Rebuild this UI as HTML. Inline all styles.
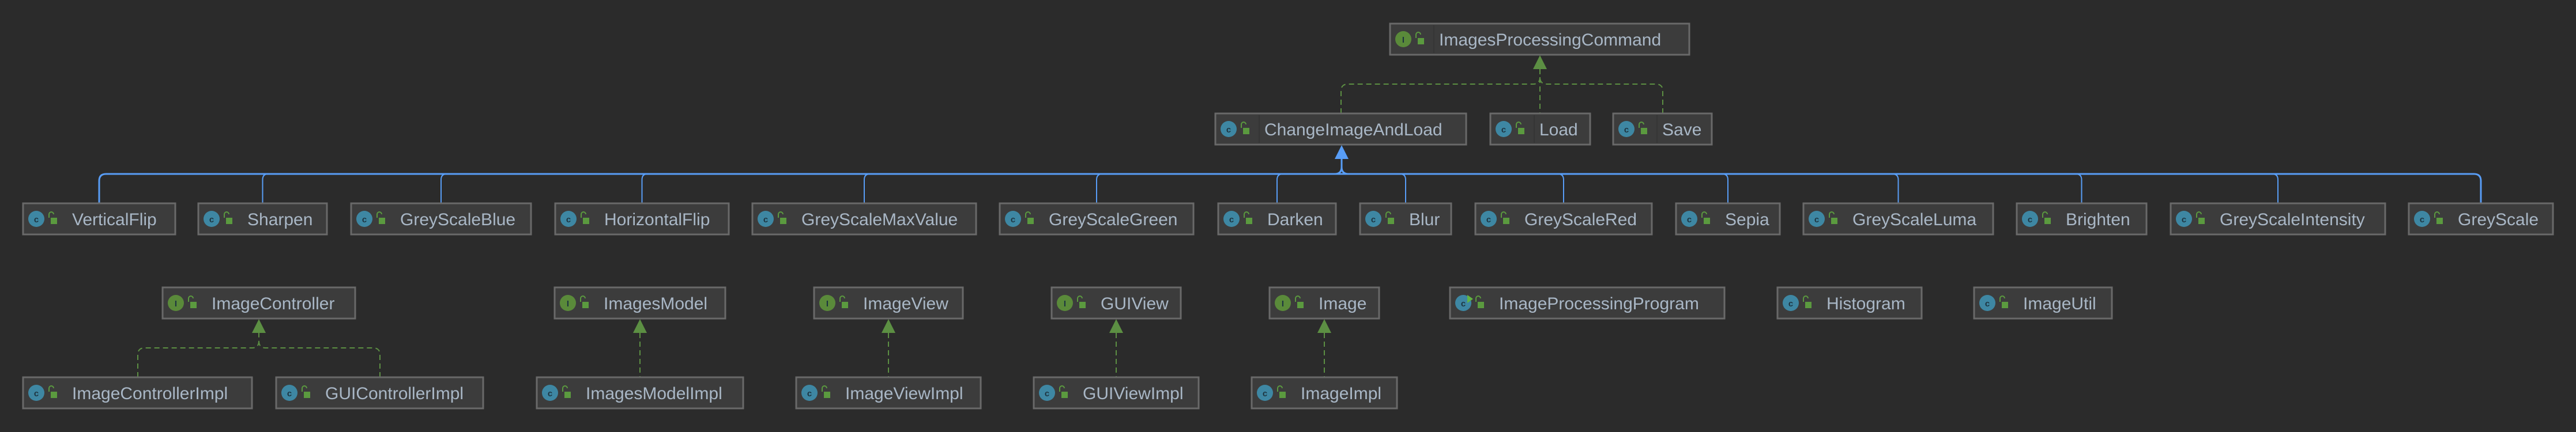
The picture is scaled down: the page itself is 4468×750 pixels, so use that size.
<!DOCTYPE html>
<html><head><meta charset="utf-8"><style>
html,body{margin:0;padding:0;background:#2b2b2b;}
svg{display:block;}
text{font-family:"Liberation Sans",sans-serif;}
.b{fill:#3c3c3c;stroke:#696969;stroke-width:3;}
.l{font-size:30px;fill:#a9b7c6;}
.ci{fill:#3e87a3;}
.ii{fill:#5a8a3a;}
.ic{font-size:15px;fill:#1d3440;text-anchor:middle;font-weight:bold;}
.lk{fill:#5b9a3f;}
.sh{fill:none;stroke:#5b9a3f;stroke-width:2;}
.dv{stroke:#353535;stroke-width:2;}
</style></head><body>
<svg width="4468" height="750" viewBox="0 0 4468 750" xmlns="http://www.w3.org/2000/svg">
<defs>
<g id="lock"><path class="sh" d="M1 9 v-6 a4 4 0 0 1 8 0"/><rect class="lk" x="4" y="9" width="11" height="11"/></g>
</defs>
<!-- blue inheritance -->
<g stroke="#589df6" fill="none">
<path d="M172 353 V314 Q172 302 184 302 H4291 Q4303 302 4303 314 V353" stroke-width="3"/>
<g stroke-width="2">
<path d="M455.5 353 V312 Q455.5 302 465 302"/>
<path d="M765 353 V312 Q765 302 775 302"/>
<path d="M1113.5 353 V312 Q1113.5 302 1123 302"/>
<path d="M1499 353 V312 Q1499 302 1509 302"/>
<path d="M1902 353 V312 Q1902 302 1912 302"/>
<path d="M2215 353 V312 Q2215 302 2225 302"/>
<path d="M2438 353 V312 Q2438 302 2428 302"/>
<path d="M2712 353 V312 Q2712 302 2702 302"/>
<path d="M2997 353 V312 Q2997 302 2987 302"/>
<path d="M3292.5 353 V312 Q3292.5 302 3282 302"/>
<path d="M3610.5 353 V312 Q3610.5 302 3600 302"/>
<path d="M3951 353 V312 Q3951 302 3941 302"/>
</g>
<path d="M2327 276 V290 Q2327 302 2315 302 M2327 290 Q2327 302 2339 302" stroke-width="3"/>
</g>
<polygon points="2327,252 2315,276 2339,276" fill="#589df6"/>
<!-- green realization -->
<g stroke="#5c8f43" stroke-width="2" fill="none" stroke-dasharray="9,6">
<path d="M2671 120 V197"/>
<path d="M2326 197 V158 Q2326 146 2338 146 H2659 Q2671 146 2671 134"/>
<path d="M2884 197 V158 Q2884 146 2872 146 H2683 Q2671 146 2671 134"/>
<path d="M239 655 V616 Q239 604 251 604 H437 Q449 604 449 592 V578"/>
<path d="M659 655 V616 Q659 604 647 604 H461 Q449 604 449 592"/>
<path d="M1110 578 V655"/>
<path d="M1541 578 V655"/>
<path d="M1936 578 V655"/>
<path d="M2297 578 V655"/>
</g>
<g fill="#5c8f43">
<polygon points="2671,96 2659,120 2683,120"/>
<polygon points="449,554 437,578 461,578"/>
<polygon points="1110,554 1098,578 1122,578"/>
<polygon points="1541,554 1529,578 1553,578"/>
<polygon points="1936,554 1924,578 1948,578"/>
<polygon points="2297,554 2285,578 2309,578"/>
</g>

<!-- Row 0 -->
<g transform="translate(2411,41)"><rect class="b" x="0" y="0" width="519" height="54"/><line class="dv" x1="76" y1="3" x2="76" y2="51"/><circle class="ii" cx="23" cy="27" r="14"/><text class="ic" x="23" y="33">I</text><use href="#lock" x="44" y="16"/><text class="l" x="85" y="38">ImagesProcessingCommand</text></g>
<!-- Row 1 -->
<g transform="translate(2108,197)"><rect class="b" x="0" y="0" width="435" height="54"/><line class="dv" x1="76" y1="3" x2="76" y2="51"/><circle class="ci" cx="23" cy="27" r="14"/><text class="ic" x="23" y="33">c</text><use href="#lock" x="44" y="16"/><text class="l" x="85" y="38">ChangeImageAndLoad</text></g>
<g transform="translate(2585,197)"><rect class="b" x="0" y="0" width="173" height="54"/><line class="dv" x1="76" y1="3" x2="76" y2="51"/><circle class="ci" cx="23" cy="27" r="14"/><text class="ic" x="23" y="33">c</text><use href="#lock" x="44" y="16"/><text class="l" x="85" y="38">Load</text></g>
<g transform="translate(2798,197)"><rect class="b" x="0" y="0" width="171" height="54"/><line class="dv" x1="76" y1="3" x2="76" y2="51"/><circle class="ci" cx="23" cy="27" r="14"/><text class="ic" x="23" y="33">c</text><use href="#lock" x="44" y="16"/><text class="l" x="85" y="38">Save</text></g>
<!-- Row 2 -->
<g transform="translate(40,353)"><rect class="b" width="264" height="54"/><circle class="ci" cx="23" cy="27" r="14"/><text class="ic" x="23" y="33">c</text><use href="#lock" x="44" y="16"/><text class="l" x="85" y="38">VerticalFlip</text></g>
<g transform="translate(344,353)"><rect class="b" width="223" height="54"/><circle class="ci" cx="23" cy="27" r="14"/><text class="ic" x="23" y="33">c</text><use href="#lock" x="44" y="16"/><text class="l" x="85" y="38">Sharpen</text></g>
<g transform="translate(609,353)"><rect class="b" width="312" height="54"/><circle class="ci" cx="23" cy="27" r="14"/><text class="ic" x="23" y="33">c</text><use href="#lock" x="44" y="16"/><text class="l" x="85" y="38">GreyScaleBlue</text></g>
<g transform="translate(963,353)"><rect class="b" width="301" height="54"/><circle class="ci" cx="23" cy="27" r="14"/><text class="ic" x="23" y="33">c</text><use href="#lock" x="44" y="16"/><text class="l" x="85" y="38">HorizontalFlip</text></g>
<g transform="translate(1305,353)"><rect class="b" width="388" height="54"/><circle class="ci" cx="23" cy="27" r="14"/><text class="ic" x="23" y="33">c</text><use href="#lock" x="44" y="16"/><text class="l" x="85" y="38">GreyScaleMaxValue</text></g>
<g transform="translate(1734,353)"><rect class="b" width="336" height="54"/><circle class="ci" cx="23" cy="27" r="14"/><text class="ic" x="23" y="33">c</text><use href="#lock" x="44" y="16"/><text class="l" x="85" y="38">GreyScaleGreen</text></g>
<g transform="translate(2113,353)"><rect class="b" width="204" height="54"/><circle class="ci" cx="23" cy="27" r="14"/><text class="ic" x="23" y="33">c</text><use href="#lock" x="44" y="16"/><text class="l" x="85" y="38">Darken</text></g>
<g transform="translate(2359,353)"><rect class="b" width="158" height="54"/><circle class="ci" cx="23" cy="27" r="14"/><text class="ic" x="23" y="33">c</text><use href="#lock" x="44" y="16"/><text class="l" x="85" y="38">Blur</text></g>
<g transform="translate(2559,353)"><rect class="b" width="306" height="54"/><circle class="ci" cx="23" cy="27" r="14"/><text class="ic" x="23" y="33">c</text><use href="#lock" x="44" y="16"/><text class="l" x="85" y="38">GreyScaleRed</text></g>
<g transform="translate(2907,353)"><rect class="b" width="180" height="54"/><circle class="ci" cx="23" cy="27" r="14"/><text class="ic" x="23" y="33">c</text><use href="#lock" x="44" y="16"/><text class="l" x="85" y="38">Sepia</text></g>
<g transform="translate(3128,353)"><rect class="b" width="329" height="54"/><circle class="ci" cx="23" cy="27" r="14"/><text class="ic" x="23" y="33">c</text><use href="#lock" x="44" y="16"/><text class="l" x="85" y="38">GreyScaleLuma</text></g>
<g transform="translate(3498,353)"><rect class="b" width="225" height="54"/><circle class="ci" cx="23" cy="27" r="14"/><text class="ic" x="23" y="33">c</text><use href="#lock" x="44" y="16"/><text class="l" x="85" y="38">Brighten</text></g>
<g transform="translate(3765,353)"><rect class="b" width="372" height="54"/><circle class="ci" cx="23" cy="27" r="14"/><text class="ic" x="23" y="33">c</text><use href="#lock" x="44" y="16"/><text class="l" x="85" y="38">GreyScaleIntensity</text></g>
<g transform="translate(4178,353)"><rect class="b" width="250" height="54"/><circle class="ci" cx="23" cy="27" r="14"/><text class="ic" x="23" y="33">c</text><use href="#lock" x="44" y="16"/><text class="l" x="85" y="38">GreyScale</text></g>
<!-- Row 3 -->
<g transform="translate(282,499)"><rect class="b" width="334" height="54"/><circle class="ii" cx="23" cy="27" r="14"/><text class="ic" x="23" y="33">I</text><use href="#lock" x="44" y="16"/><text class="l" x="85" y="38">ImageController</text></g>
<g transform="translate(962,499)"><rect class="b" width="296" height="54"/><circle class="ii" cx="23" cy="27" r="14"/><text class="ic" x="23" y="33">I</text><use href="#lock" x="44" y="16"/><text class="l" x="85" y="38">ImagesModel</text></g>
<g transform="translate(1412,499)"><rect class="b" width="258" height="54"/><circle class="ii" cx="23" cy="27" r="14"/><text class="ic" x="23" y="33">I</text><use href="#lock" x="44" y="16"/><text class="l" x="85" y="38">ImageView</text></g>
<g transform="translate(1824,499)"><rect class="b" width="224" height="54"/><circle class="ii" cx="23" cy="27" r="14"/><text class="ic" x="23" y="33">I</text><use href="#lock" x="44" y="16"/><text class="l" x="85" y="38">GUIView</text></g>
<g transform="translate(2202,499)"><rect class="b" width="190" height="54"/><circle class="ii" cx="23" cy="27" r="14"/><text class="ic" x="23" y="33">I</text><use href="#lock" x="44" y="16"/><text class="l" x="85" y="38">Image</text></g>
<g transform="translate(2515,499)"><rect class="b" width="476" height="54"/><circle class="ci" cx="23" cy="27" r="14"/><text class="ic" x="23" y="33">c</text><polygon points="30,13 40,20 30,27" fill="#62b543"/><use href="#lock" x="44" y="16"/><text class="l" x="85" y="38">ImageProcessingProgram</text></g>
<g transform="translate(3083,499)"><rect class="b" width="250" height="54"/><circle class="ci" cx="23" cy="27" r="14"/><text class="ic" x="23" y="33">c</text><use href="#lock" x="44" y="16"/><text class="l" x="85" y="38">Histogram</text></g>
<g transform="translate(3424,499)"><rect class="b" width="239" height="54"/><circle class="ci" cx="23" cy="27" r="14"/><text class="ic" x="23" y="33">c</text><use href="#lock" x="44" y="16"/><text class="l" x="85" y="38">ImageUtil</text></g>
<!-- Row 4 -->
<g transform="translate(40,655)"><rect class="b" width="397" height="54"/><circle class="ci" cx="23" cy="27" r="14"/><text class="ic" x="23" y="33">c</text><use href="#lock" x="44" y="16"/><text class="l" x="85" y="38">ImageControllerImpl</text></g>
<g transform="translate(479,655)"><rect class="b" width="359" height="54"/><circle class="ci" cx="23" cy="27" r="14"/><text class="ic" x="23" y="33">c</text><use href="#lock" x="44" y="16"/><text class="l" x="85" y="38">GUIControllerImpl</text></g>
<g transform="translate(931,655)"><rect class="b" width="358" height="54"/><circle class="ci" cx="23" cy="27" r="14"/><text class="ic" x="23" y="33">c</text><use href="#lock" x="44" y="16"/><text class="l" x="85" y="38">ImagesModelImpl</text></g>
<g transform="translate(1381,655)"><rect class="b" width="320" height="54"/><circle class="ci" cx="23" cy="27" r="14"/><text class="ic" x="23" y="33">c</text><use href="#lock" x="44" y="16"/><text class="l" x="85" y="38">ImageViewImpl</text></g>
<g transform="translate(1793,655)"><rect class="b" width="286" height="54"/><circle class="ci" cx="23" cy="27" r="14"/><text class="ic" x="23" y="33">c</text><use href="#lock" x="44" y="16"/><text class="l" x="85" y="38">GUIViewImpl</text></g>
<g transform="translate(2171,655)"><rect class="b" width="252" height="54"/><circle class="ci" cx="23" cy="27" r="14"/><text class="ic" x="23" y="33">c</text><use href="#lock" x="44" y="16"/><text class="l" x="85" y="38">ImageImpl</text></g>
</svg>
</body></html>
